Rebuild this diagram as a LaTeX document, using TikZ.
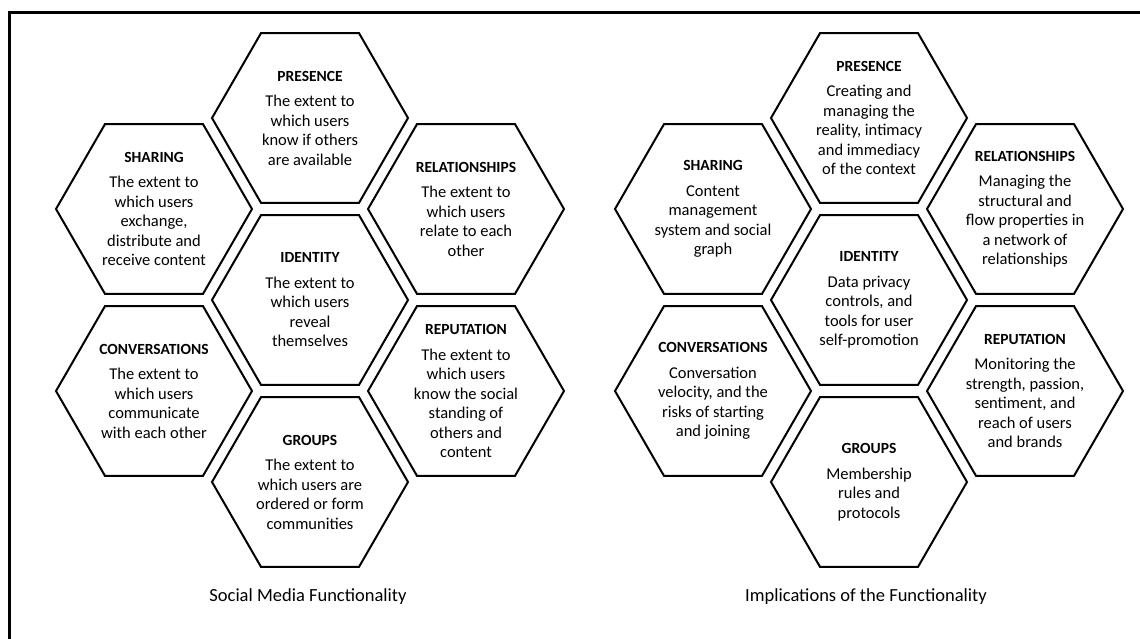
\documentclass[tikz,border=0pt]{standalone}
\usepackage{fontspec}
\setmainfont{Carlito}
\usepackage{tikz}
\usetikzlibrary{shapes.geometric}
\newcommand{\ttl}[1]{{\fontsize{15.5}{19}\selectfont\bfseries #1}\\[6pt]}

\begin{document}
\begin{tikzpicture}
    [%%%%%%%%%%%%%%%%%%%%%%%%%%%%%%
        x=1pt, y=-1pt,
        hexcell/.style={regular polygon,regular polygon sides=6,draw=black,line width=2pt,minimum size=196pt,inner sep=0pt},
        celltext/.style={align=center,inner sep=0pt,font=\fontsize{16.5}{19.5}\selectfont},
        caption/.style={font=\fontsize{18.5}{22}\selectfont}
    ]%%%%%%%%%%%%%%%%%%%%%%%%%%%%%%
\useasboundingbox (0,0) rectangle (1140,639);
\draw[line width=3pt] (9,639) -- (9,13) -- (1140,13);

\foreach \gx/\g in {310/l,869/r}{
    \node[hexcell] (\g-pres) at (\gx,118){};
    \node[hexcell] (\g-shar) at (\gx-156,209){};
    \node[hexcell] (\g-rel) at (\gx+156,209){};
    \node[hexcell] (\g-iden) at (\gx,300){};
    \node[hexcell] (\g-conv) at (\gx-156,391){};
    \node[hexcell] (\g-rep) at (\gx+156,391){};
    \node[hexcell] (\g-grp) at (\gx,482){};
}

\node[celltext] (l-pres-t) at (l-pres){\ttl{PRESENCE}The extent to\\which users\\know if others\\are available};
\node[celltext] (l-shar-t) at (l-shar){\ttl{SHARING}The extent to\\which users\\exchange,\\distribute and\\receive content};
\node[celltext] (l-rel-t) at (l-rel){\ttl{RELATIONSHIPS}The extent to\\which users\\relate to each\\other};
\node[celltext] (l-iden-t) at (l-iden){\ttl{IDENTITY}The extent to\\which users\\reveal\\themselves};
\node[celltext] (l-conv-t) at (l-conv){\ttl{CONVERSATIONS}The extent to\\which users\\communicate\\with each other};
\node[celltext] (l-rep-t) at (l-rep){\ttl{REPUTATION}The extent to\\which users\\know the social\\standing of\\others and\\content};
\node[celltext] (l-grp-t) at (l-grp){\ttl{GROUPS}The extent to\\which users are\\ordered or form\\communities};

\node[celltext] (r-pres-t) at (r-pres){\ttl{PRESENCE}Creating and\\managing the\\reality, intimacy\\and immediacy\\of the context};
\node[celltext] (r-shar-t) at (r-shar){\ttl{SHARING}Content\\management\\system and social\\graph};
\node[celltext] (r-rel-t) at (r-rel){\ttl{RELATIONSHIPS}Managing the\\structural and\\flow properties in\\a network of\\relationships};
\node[celltext] (r-iden-t) at (r-iden){\ttl{IDENTITY}Data privacy\\controls, and\\tools for user\\self-promotion};
\node[celltext] (r-conv-t) at (r-conv){\ttl{CONVERSATIONS}Conversation\\velocity, and the\\risks of starting\\and joining};
\node[celltext] (r-rep-t) at (r-rep){\ttl{REPUTATION}Monitoring the\\strength, passion,\\sentiment, and\\reach of users\\and brands};
\node[celltext] (r-grp-t) at (r-grp){\ttl{GROUPS}Membership\\rules and\\protocols};

\node[caption] (l-cap) at (308,597){Social Media Functionality};
\node[caption] (r-cap) at (866,597){Implications of the Functionality};

\end{tikzpicture}
\end{document}
